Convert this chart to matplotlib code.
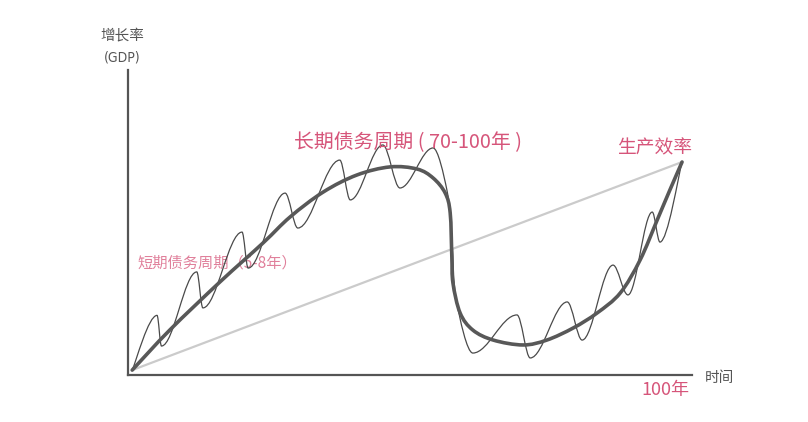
import numpy as np
import matplotlib.pyplot as plt
from matplotlib.path import Path
from matplotlib.patches import PathPatch

plt.rcParams['font.family'] = ['Noto Sans CJK SC', 'DejaVu Sans']

# long-term debt cycle, knots (x: years, y: growth index)
long_x = [0.4, 7.2, 16.3, 24.1, 29.0, 35.0, 41.1, 47.1, 52.0, 54.9, 57.1, 58.0,
          58.3, 58.5, 59.8, 62.1, 65.8, 71.2, 75.5, 80.3, 84.6, 88.8, 92.4, 95.5,
          97.8, 100.0]
long_y = [2.3, 21.1, 43.7, 62.0, 74.2, 85.9, 93.9, 97.7, 96.7, 92.5, 85.4, 76.1,
          55.4, 43.2, 29.1, 21.1, 16.4, 14.1, 16.4, 22.1, 29.1, 38.5, 54.0, 72.8,
          86.9, 100.0]

# short-term debt cycles (turn = 1 marks a peak or trough)
short_x = [0.4, 4.9, 5.7, 12.1, 13.2, 20.3, 21.4, 28.1, 30.4, 38.0, 39.9, 45.8,
           48.9, 54.9, 57.4, 58.3, 59.1, 62.1, 70.1, 72.5, 79.2, 81.9, 87.5, 90.2,
           94.6, 96.0, 100.0]
short_y = [2.3, 28.0, 13.6, 48.4, 31.5, 67.1, 50.2, 85.4, 69.0, 100.9, 82.2, 108.0,
           87.8, 106.6, 86.9, 63.4, 35.2, 10.3, 28.2, 8.0, 34.3, 16.4, 51.6, 37.6,
           76.5, 62.4, 100.0]
short_turn = [0, 1, 1, 1, 1, 1, 1, 1, 1, 1, 1, 1,
              1, 1, 0, 0, 0, 1, 1, 1, 1, 1, 1, 1,
              1, 1, 0]

# productivity trend
prod_x = [0.4, 100.0]
prod_y = [2.3, 100.0]

PINK = "#d6557a"
GREY = "#555555"


def smooth_path(xs, ys, turns=None, k=0.35):
    """Bezier through the knots; flat, x-monotone handles at turning points."""
    pts = np.column_stack([xs, ys])
    n = len(pts)
    out_h, in_h = [], []
    for i in range(n):
        t = (pts[min(i + 1, n - 1)] - pts[max(i - 1, 0)]) / 2
        if turns is not None and turns[i]:
            dx_in = pts[i][0] - pts[i - 1][0]
            dx_out = pts[i + 1][0] - pts[i][0]
            in_h.append(np.array([dx_in * k, 0.0]))
            out_h.append(np.array([dx_out * k, 0.0]))
        else:
            in_h.append(t / 3)
            out_h.append(t / 3)
    verts = [pts[0]]
    codes = [Path.MOVETO]
    for i in range(n - 1):
        verts += [pts[i] + out_h[i], pts[i + 1] - in_h[i + 1], pts[i + 1]]
        codes += [Path.CURVE4] * 3
    return Path(verts, codes)


fig = plt.figure(figsize=(8.08, 4.22), dpi=100)
ax = fig.add_axes([128 / 808, 47 / 422, 564 / 808, 305 / 422])
ax.set_xlim(-0.36, 101.8)
ax.set_ylim(0, 143.2)

ax.plot(prod_x, prod_y, color="#cbcbcb", lw=1.6, solid_capstyle="round", zorder=1)
ax.add_patch(PathPatch(smooth_path(short_x, short_y, short_turn), fill=False,
                       edgecolor="#4a4a4a", lw=0.9, zorder=2, clip_on=False))
ax.add_patch(PathPatch(smooth_path(long_x, long_y), fill=False,
                       edgecolor="#585858", lw=2.6, capstyle="round", zorder=3, clip_on=False))

for s in ["top", "right"]:
    ax.spines[s].set_visible(False)
for s in ["left", "bottom"]:
    ax.spines[s].set_color(GREY)
    ax.spines[s].set_linewidth(1.6)
ax.set_xticks([])
ax.set_yticks([])

ax.text(50.3, 108.9, "长期债务周期 ( 70-100年 )", color=PINK, fontsize=14.3,
        ha="center", va="center")
ax.text(95.1, 106.6, "生产效率", color=PINK, fontsize=13.5, ha="center", va="center")
ax.text(1.3, 52.6, "短期债务周期（5-8年）", color=PINK, fontsize=11,
        ha="left", va="center", alpha=0.75, zorder=1.5)
ax.text(96.9, -7.0, "100年", color=PINK, fontsize=13, ha="center", va="center")
ax.text(104.2, -1.4, "时间", color="#555555", fontsize=10.5, ha="left", va="center")
ax.text(-1.4, 159.6, "增长率", color="#555555", fontsize=10.5, ha="center", va="center")
ax.text(-1.4, 149.3, "(GDP)", color="#555555", fontsize=10, ha="center", va="center",
        family="DejaVu Sans", fontstretch="condensed")

fig.savefig("out.png", dpi=100)
